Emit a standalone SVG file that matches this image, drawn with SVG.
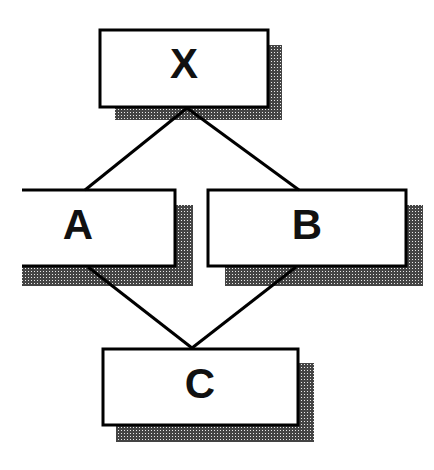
<svg xmlns="http://www.w3.org/2000/svg" width="434" height="470" viewBox="0 0 434 470">
<defs>
<pattern id="hatch" width="3" height="3" patternUnits="userSpaceOnUse">
<rect width="3" height="3" fill="#444"/>
<rect x="1" y="1" width="1" height="1" fill="#e8e8e8"/>
</pattern>
</defs>
<style>
.box{fill:#fff;stroke:#000;stroke-width:3}
.shadow{fill:url(#hatch)}
.lbl{font-family:"Liberation Sans",Arial,sans-serif;font-weight:bold;font-size:42px;text-anchor:middle;fill:#111}
.conn{stroke:#000;stroke-width:3;fill:none}
</style>
<rect width="434" height="470" fill="#fff"/>
<g id="node-X">
<path class="shadow" d="M115 107 H268 V45 H282 V120 H115 Z"/>
<rect class="box" x="100" y="30" width="168" height="77"/>
<text class="lbl" x="184" y="78">X</text>
</g>
<g id="node-A">
<path class="shadow" d="M22 266 H175 V205 H193 V286 H22 Z"/>
<path d="M22 190 H175 V266 H22 Z" fill="#fff"/>
<path class="conn" d="M22 190 H175 V266 H22"/>
<text class="lbl" x="78" y="239">A</text>
</g>
<g id="node-B">
<path class="shadow" d="M225 266 H406 V205 H423 V286 H225 Z"/>
<rect class="box" x="208" y="190" width="198" height="76"/>
<text class="lbl" x="307" y="239">B</text>
</g>
<g id="node-C">
<path class="shadow" d="M116 425 H298 V363 H314 V442 H116 Z"/>
<rect class="box" x="103" y="349" width="195" height="76"/>
<text class="lbl" x="200" y="398">C</text>
</g>
<g id="connectors">
<line class="conn" x1="187" y1="108" x2="85" y2="190"/>
<line class="conn" x1="187" y1="108" x2="299" y2="190"/>
<line class="conn" x1="88" y1="267" x2="192" y2="348"/>
<line class="conn" x1="296" y1="267" x2="192" y2="348"/>
</g>
</svg>
